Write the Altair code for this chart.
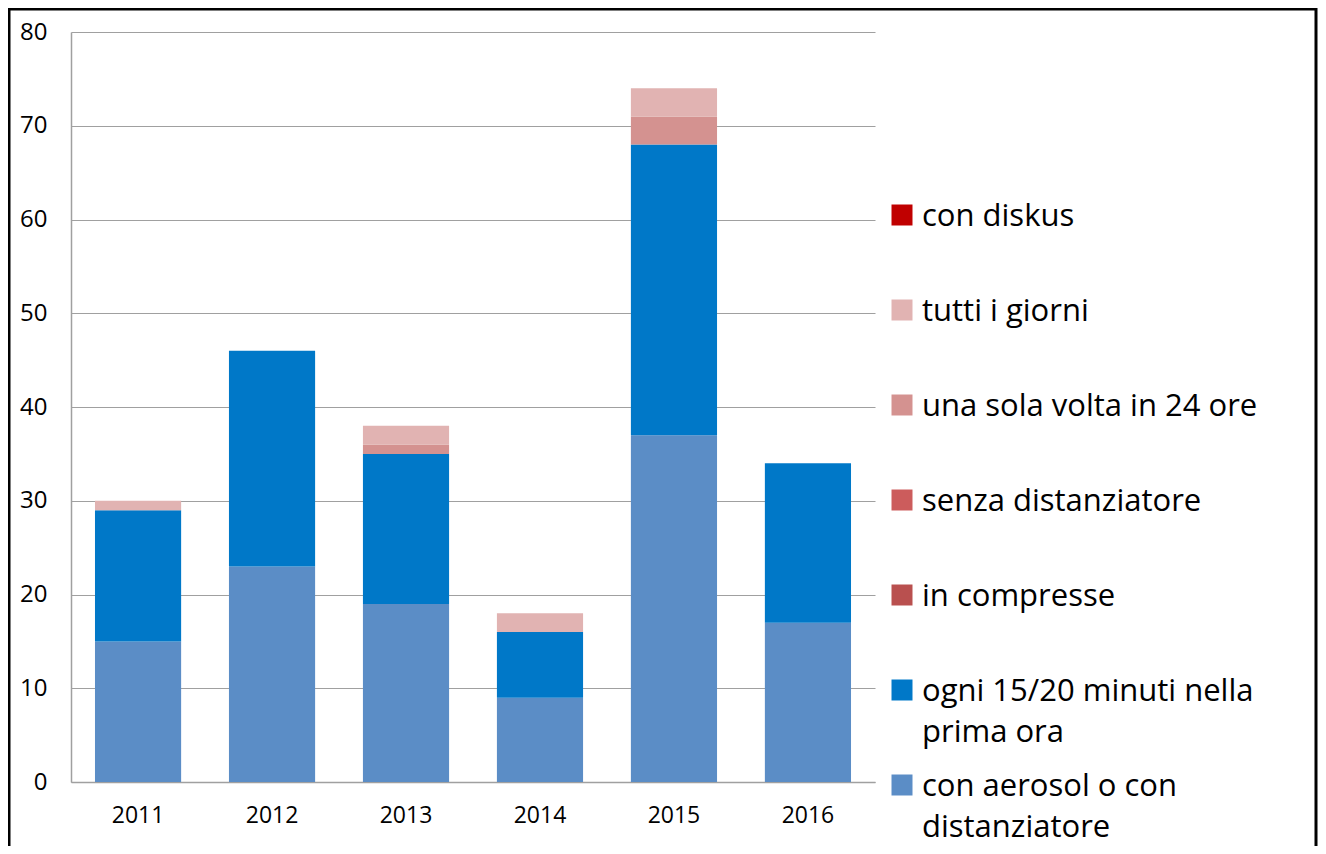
import altair as alt
import pandas as pd

years = ["2011", "2012", "2013", "2014", "2015", "2016"]
series = [
    "con aerosol o con distanziatore",
    "ogni 15/20 minuti nella prima ora",
    "in compresse",
    "senza distanziatore",
    "una sola volta in 24 ore",
    "tutti i giorni",
    "con diskus",
]
labels = [
    "con aerosol o con\ndistanziatore",
    "ogni 15/20 minuti nella\nprima ora",
    "in compresse",
    "senza distanziatore",
    "una sola volta in 24 ore",
    "tutti i giorni",
    "con diskus",
]
colors = ["#5B8DC6", "#0078C8", "#B9504F", "#CC5C5C", "#D49290", "#E1B3B2", "#C00000"]

aerosol = [15, 23, 19, 9, 37, 17]
ogni = [14, 23, 16, 7, 31, 17]
compresse = [0, 0, 0, 0, 0, 0]
senza = [0, 0, 0, 0, 0, 0]
una_sola = [0, 0, 1, 0, 3, 0]
tutti = [1, 0, 2, 2, 3, 0]
diskus = [0, 0, 0, 0, 0, 0]

values = [aerosol, ogni, compresse, senza, una_sola, tutti, diskus]

rows = []
for i, (s, vals) in enumerate(zip(series, values)):
    for y, v in zip(years, vals):
        rows.append({"year": y, "series": s, "value": v, "idx": i})
df = pd.DataFrame(rows)

legend_order = list(reversed(series))
leg_df = pd.DataFrame({"series": series, "label": labels})

FONT = "Open Sans"
color_scale = alt.Scale(domain=series, range=colors)

bars = alt.Chart(df).mark_bar().encode(
    x=alt.X(
        "year:N",
        scale=alt.Scale(paddingInner=0.357, paddingOuter=0.179),
        axis=alt.Axis(
            title=None, labelAngle=0, ticks=False, grid=False,
            domainColor="#A0A0A0", domainWidth=1.5,
            labelFont=FONT, labelFontSize=23, labelColor="black", labelPadding=22,
        ),
    ),
    y=alt.Y(
        "value:Q",
        stack="zero",
        scale=alt.Scale(domain=[0, 80], nice=False),
        axis=alt.Axis(
            title=None, values=list(range(0, 81, 10)), ticks=False,
            domainColor="#A0A0A0", domainWidth=1.5,
            gridColor="#A0A0A0", gridWidth=1.2,
            labelFont=FONT, labelFontSize=24, labelColor="black", labelPadding=24,
        ),
    ),
    color=alt.Color("series:N", scale=color_scale, legend=None),
    order=alt.Order("idx:Q", sort="ascending"),
)

leg_y = alt.Y(
    "series:N",
    sort=legend_order,
    scale=alt.Scale(domain=legend_order, range=[183, 753], padding=0),
    axis=None,
)

squares = alt.Chart(leg_df).mark_square(size=441, opacity=1).encode(
    x=alt.value(831),
    y=leg_y,
    color=alt.Color("series:N", scale=color_scale, legend=None),
)

texts = alt.Chart(leg_df).mark_text(
    align="left", baseline="alphabetic", dy=11, lineBreak="\n", lineHeight=41,
    font=FONT, fontSize=31, color="black",
).encode(
    x=alt.value(851),
    y=leg_y,
    text="label:N",
)

legend = alt.layer(squares, texts)

border = alt.Chart(alt.Data(values=[{}])).mark_rect(
    filled=False, stroke="black", strokeWidth=3
).encode(
    x=alt.value(-62), x2=alt.value(1245), y=alt.value(-23), y2=alt.value(900)
)

chart = alt.layer(bars, legend, border).resolve_scale(y="independent").properties(
    width=804,
    height=750,
    autosize=alt.AutoSizeParams(type="none"),
    padding={"left": 63, "top": 24, "right": 443, "bottom": 64},
).configure(background="white").configure_view(stroke=None)

chart.save("out.html", embed_options={"renderer": "svg", "actions": False})
